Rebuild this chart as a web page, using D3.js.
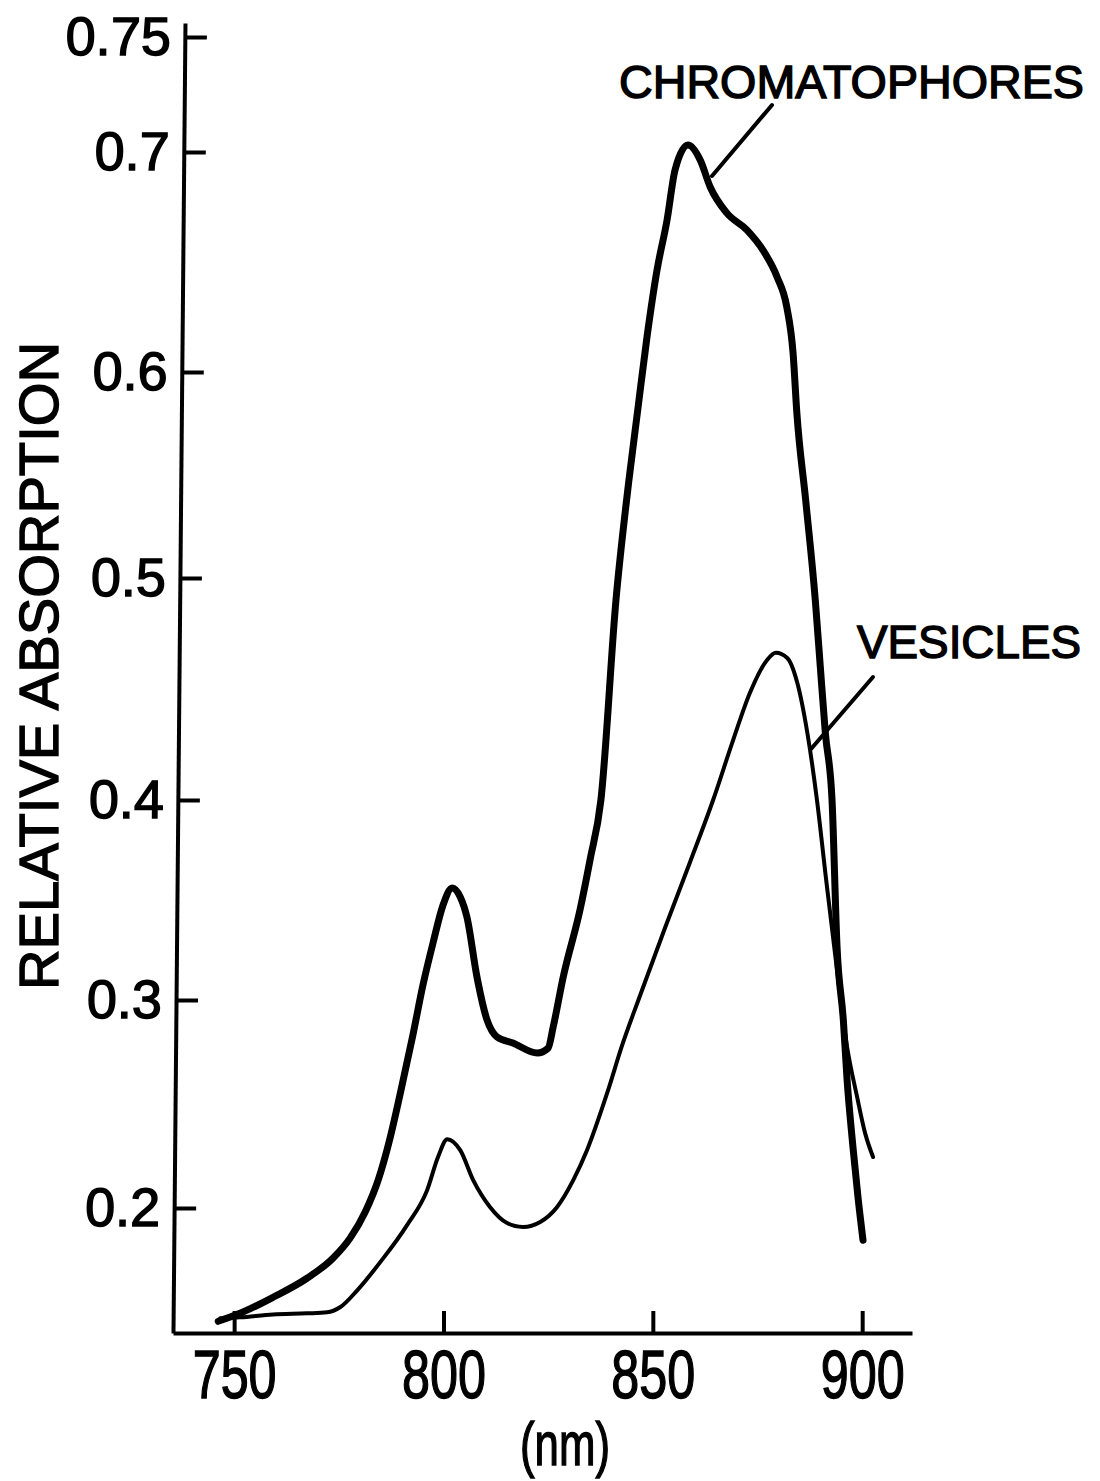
<!DOCTYPE html>
<html>
<head>
<meta charset="utf-8">
<script src="https://cdn.jsdelivr.net/npm/d3@7"></script>
<style>
  html, body { margin: 0; padding: 0; background: #fff; }
  svg text { font-family: "Liberation Sans", Arial, Helvetica, sans-serif; fill: #000; stroke: #000; stroke-width: 1.4px; }
</style>
</head>
<body>
<svg id="chart" width="1100" height="1481"></svg>
<script>
// ---- data ----
const xTicks = [750, 800, 850, 900];
const xTickLabels = ["750", "800", "850", "900"];
const yTicks = [0.2, 0.3, 0.4, 0.5, 0.6, 0.7, 0.75];
const yTickLabels = ["0.2", "0.3", "0.4", "0.5", "0.6", "0.7", "0.75"];

const chromNm = [746.2, 751.4, 759.3, 767.4, 773.6, 777.7, 781.3, 784.4, 787.3, 789.6, 792.7, 795.1, 797.5, 799.9, 802.1, 804.0, 805.6, 808.0, 810.4, 812.8, 816.6, 822.4, 825.0, 826.2, 828.6, 832.6, 835.0, 837.6, 841.2, 844.3, 846.4, 848.6, 851.0, 853.4, 855.3, 858.4, 861.3, 863.7, 867.7, 872.5, 876.3, 879.7, 882.0, 883.5, 884.4, 886.5, 888.8, 890.0, 891.2, 892.8, 894.0, 895.5, 896.4, 897.8, 899.0, 900.2];
const chromAbs = [0.1458, 0.1496, 0.1573, 0.1664, 0.176, 0.1856, 0.1981, 0.2134, 0.2341, 0.2543, 0.2832, 0.3075, 0.3285, 0.3475, 0.356, 0.3515, 0.3415, 0.3115, 0.2904, 0.2822, 0.2793, 0.2745, 0.2769, 0.287, 0.3115, 0.345, 0.37, 0.40, 0.4901, 0.5476, 0.5816, 0.6158, 0.6463, 0.6691, 0.6918, 0.703, 0.6964, 0.6841, 0.6722, 0.6645, 0.6554, 0.6431, 0.6295, 0.6085, 0.5801, 0.5379, 0.4901, 0.46, 0.4303, 0.40, 0.3265, 0.2904, 0.2615, 0.2293, 0.2052, 0.1846];

const vesNm = [746.7, 751.4, 759.3, 767.4, 772.2, 775.3, 779.4, 784.9, 791.3, 796.1, 798.7, 800.9, 804.0, 807.1, 811.1, 815.2, 819.0, 823.1, 827.1, 831.0, 834.3, 839.1, 842.7, 847.0, 852.9, 858.9, 864.4, 869.2, 873.2, 877.3, 879.4, 882.1, 884.5, 886.9, 889.2, 891.4, 893.7, 896.4, 898.8, 900.7, 902.6];
const vesAbs = [0.1472, 0.1477, 0.1491, 0.1496, 0.1501, 0.1525, 0.1606, 0.1741, 0.1918, 0.2086, 0.2245, 0.2331, 0.2278, 0.2134, 0.2005, 0.1928, 0.1909, 0.1933, 0.2004, 0.2134, 0.2279, 0.2553, 0.2784, 0.3025, 0.336, 0.369, 0.40, 0.4271, 0.4483, 0.4631, 0.4663, 0.464, 0.4528, 0.4303, 0.40, 0.36, 0.32, 0.2774, 0.2533, 0.236, 0.2245];

const seriesNames = ["CHROMATOPHORES", "VESICLES"];
const xTitle = "(nm)";
const yTitle = "RELATIVE ABSORPTION";

// ---- drawing ----
const svg = d3.select("#chart");

const x = d3.scaleLinear().domain([735.4, 911.9]).range([173, 912]);
// calibrated (piecewise) vertical scale, matching the original axis spacing
const y = d3.scaleLinear()
  .domain([0.1402, 0.2, 0.3, 0.4, 0.5, 0.6, 0.7, 0.75, 0.7565])
  .range([1333, 1208, 1000, 800, 578, 372, 152, 37, 23]);

// x axis
const gx = svg.append("g")
  .attr("transform", "translate(0,1333)")
  .call(d3.axisBottom(x).tickValues(xTicks)
    .tickFormat((d, i) => xTickLabels[i])
    .tickSize(-22).tickSizeOuter(0).tickPadding(17));
gx.select(".domain").attr("stroke", "#000").attr("stroke-width", 4);
gx.selectAll(".tick line").attr("stroke", "#000").attr("stroke-width", 4);
gx.selectAll(".tick text")
  .attr("font-size", 68)
  .attr("textLength", 84)
  .attr("lengthAdjust", "spacingAndGlyphs");

// y axis (slightly slanted as in the scanned original)
const gy = svg.append("g")
  .attr("transform", "translate(185.2,0) skewX(-0.525)")
  .call(d3.axisLeft(y).tickValues(yTicks)
    .tickFormat((d, i) => yTickLabels[i])
    .tickSize(-22).tickSizeOuter(0).tickPadding(14));
gy.select(".domain").attr("stroke", "#000").attr("stroke-width", 4);
gy.selectAll(".tick line").attr("stroke", "#000").attr("stroke-width", 4);
gy.selectAll(".tick text").attr("font-size", 54);

// curves
const line = d3.line()
  .x(d => x(d[0]))
  .y(d => y(d[1]))
  .curve(d3.curveMonotoneX);

const chrom = chromNm.map((v, i) => [v, chromAbs[i]]);
const ves = vesNm.map((v, i) => [v, vesAbs[i]]);

svg.append("path").datum(ves)
  .attr("d", line).attr("fill", "none").attr("stroke", "#000")
  .attr("stroke-width", 4).attr("stroke-linecap", "round").attr("stroke-linejoin", "round");
svg.append("path").datum(chrom)
  .attr("d", line).attr("fill", "none").attr("stroke", "#000")
  .attr("stroke-width", 7).attr("stroke-linecap", "round").attr("stroke-linejoin", "round");

// series labels with leader lines
svg.append("text").attr("x", 619).attr("y", 98)
  .attr("font-size", 46).attr("textLength", 465).attr("lengthAdjust", "spacingAndGlyphs")
  .text(seriesNames[0]);
svg.append("line").attr("x1", 772).attr("y1", 105).attr("x2", 712).attr("y2", 176)
  .attr("stroke", "#000").attr("stroke-width", 4).attr("stroke-linecap", "round");

svg.append("text").attr("x", 857).attr("y", 658)
  .attr("font-size", 46).attr("textLength", 224).attr("lengthAdjust", "spacingAndGlyphs")
  .text(seriesNames[1]);
svg.append("line").attr("x1", 873).attr("y1", 677).attr("x2", 811).attr("y2", 749)
  .attr("stroke", "#000").attr("stroke-width", 4).attr("stroke-linecap", "round");

// axis titles
svg.append("text").attr("x", 565).attr("y", 1465)
  .attr("text-anchor", "middle").attr("font-size", 62)
  .attr("textLength", 90).attr("lengthAdjust", "spacingAndGlyphs")
  .text(xTitle);
svg.append("text")
  .attr("transform", "translate(58,666) rotate(-90)")
  .attr("text-anchor", "middle").attr("font-size", 56)
  .attr("textLength", 648).attr("lengthAdjust", "spacingAndGlyphs")
  .text(yTitle);
</script>
</body>
</html>
